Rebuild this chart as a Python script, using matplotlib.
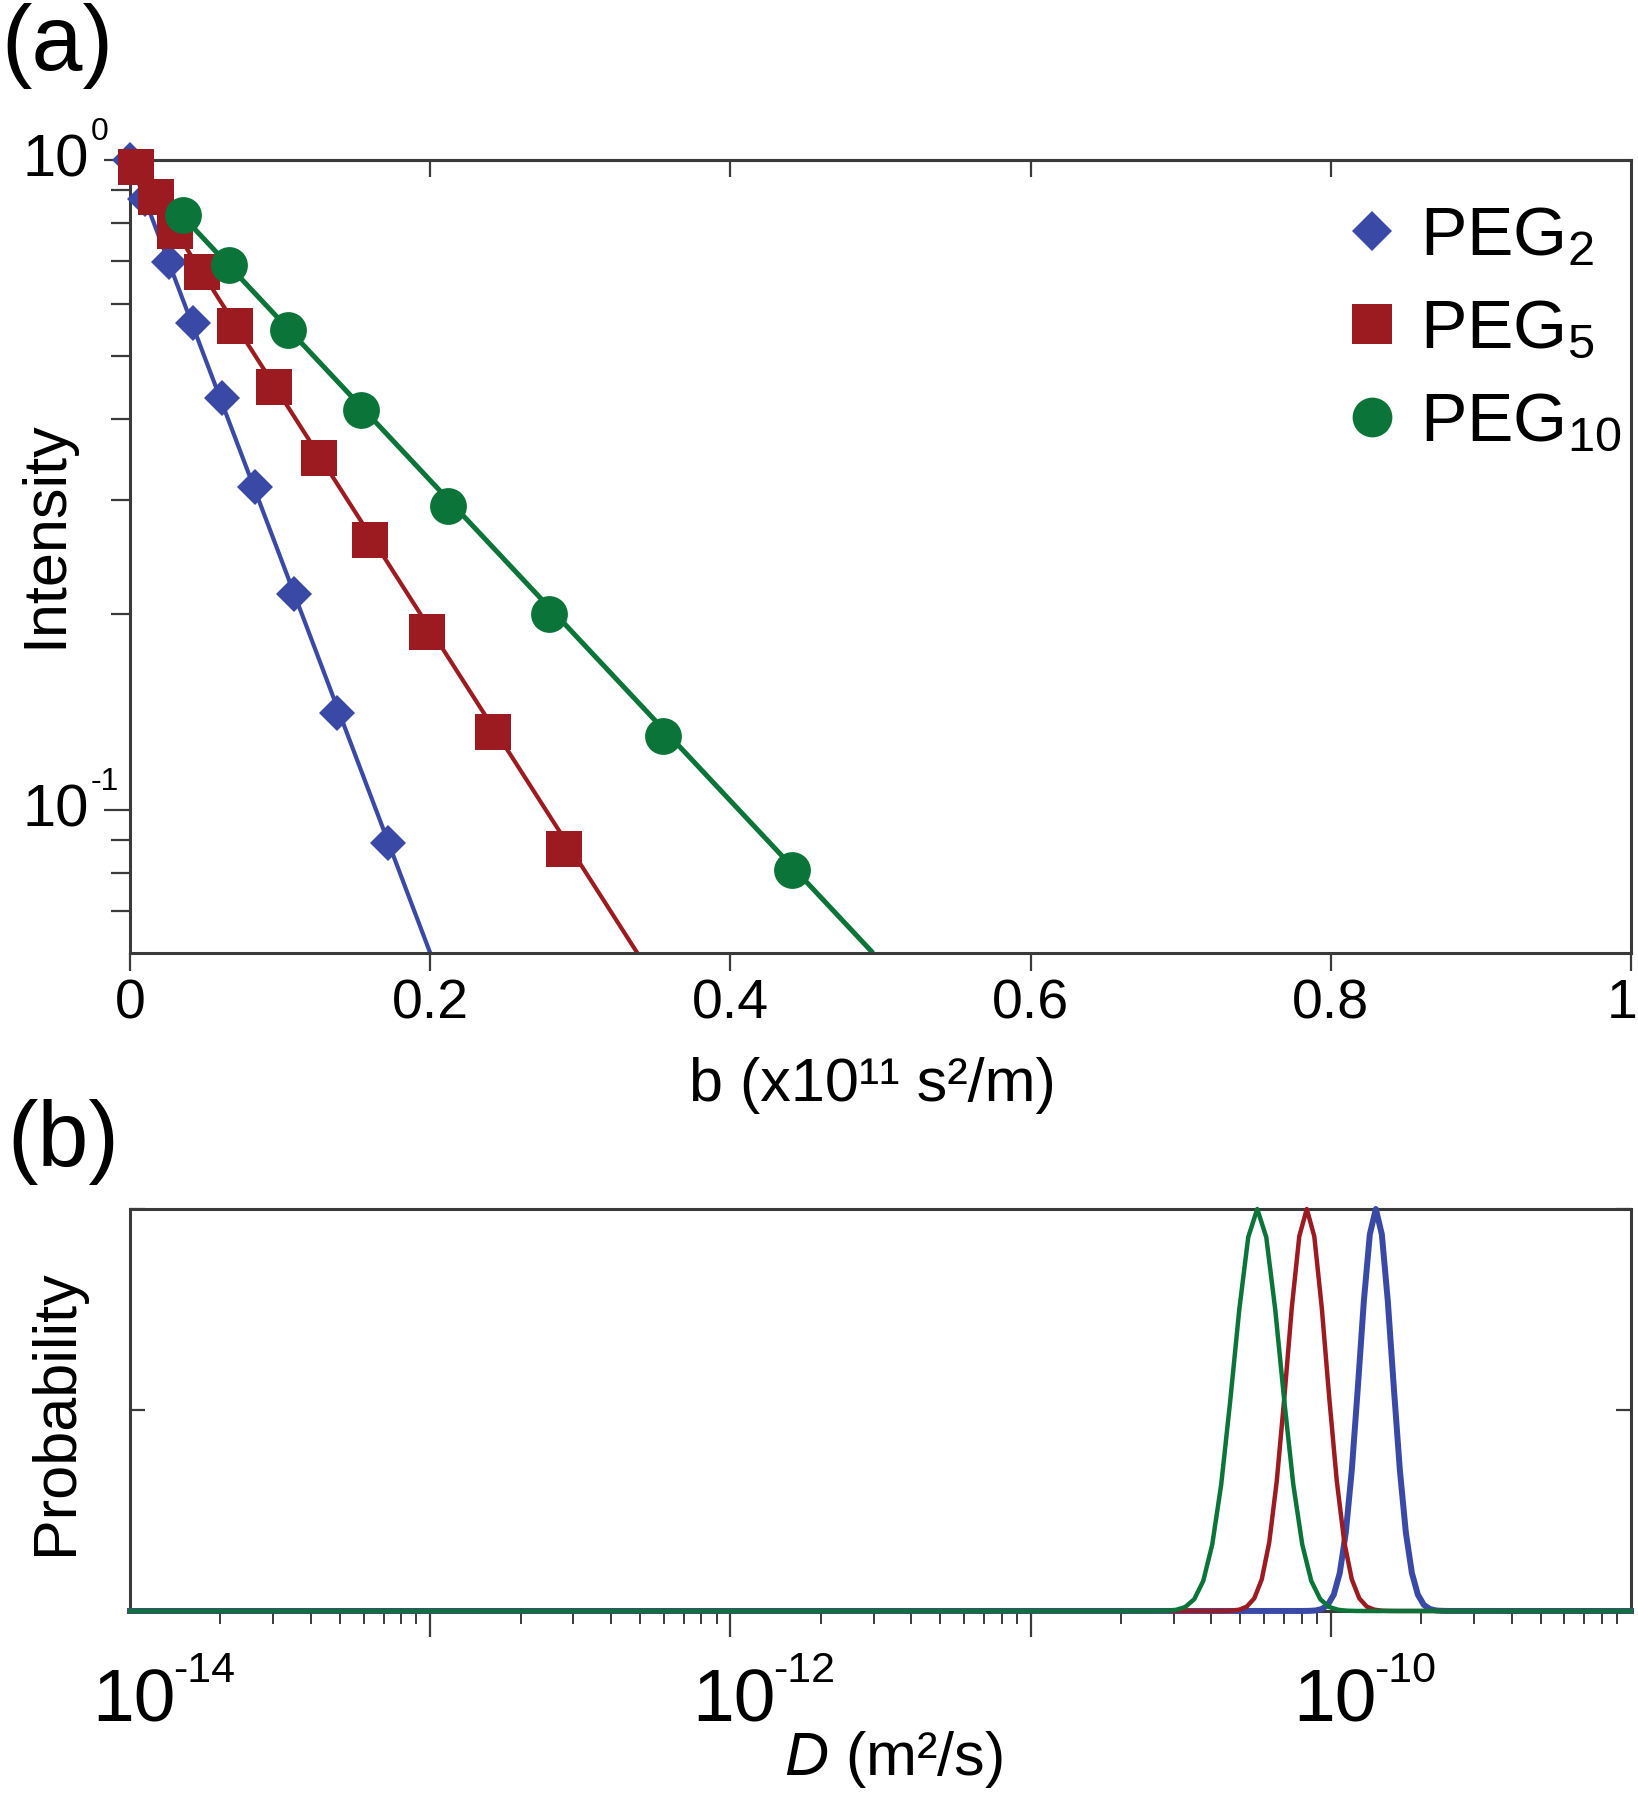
import numpy as np
import matplotlib
matplotlib.use('Agg')
import matplotlib.pyplot as plt
from matplotlib.ticker import LogLocator, NullFormatter, FixedLocator
from matplotlib.transforms import ScaledTranslation
from matplotlib.lines import Line2D

plt.rcParams['font.family'] = ['Liberation Sans', 'DejaVu Sans']
plt.rcParams['mathtext.fontset'] = 'custom'
plt.rcParams['mathtext.rm'] = 'Liberation Sans'
plt.rcParams['mathtext.it'] = 'Liberation Sans:italic'
plt.rcParams['mathtext.bf'] = 'Liberation Sans:bold'

# ---- panel (a): signal decay vs b ----
labels = ['PEG$_2$', 'PEG$_5$', 'PEG$_{10}$']
colors = ['#3a49a6', '#9c1b20', '#0b7439']

b_peg2 = [0.000, 0.010, 0.026, 0.042, 0.061, 0.083, 0.109, 0.138, 0.172]
i_peg2 = [1.000, 0.870, 0.697, 0.561, 0.431, 0.314, 0.215, 0.141, 0.089]
b_peg5 = [0.004, 0.017, 0.030, 0.048, 0.070, 0.096, 0.126, 0.160, 0.198, 0.242, 0.289]
i_peg5 = [0.975, 0.876, 0.778, 0.673, 0.556, 0.448, 0.348, 0.260, 0.188, 0.132, 0.087]
b_peg10 = [0.035, 0.066, 0.105, 0.154, 0.212, 0.279, 0.355, 0.441]
i_peg10 = [0.824, 0.689, 0.548, 0.413, 0.294, 0.200, 0.130, 0.081]

# fitted lines (straight on the semi-log axes)
fit_b_peg2 = [0.0, 0.200]
fit_i_peg2 = [1.0, 0.0603]
fit_b_peg5 = [0.0, 0.338]
fit_i_peg5 = [1.0, 0.0603]
fit_b_peg10 = [0.0, 0.495]
fit_i_peg10 = [1.0, 0.0603]

xticks_a = [0, 0.2, 0.4, 0.6, 0.8, 1.0]
xticklabels_a = ['0', '0.2', '0.4', '0.6', '0.8', '1']
yticks_a = [0.1, 1.0]
yexp_a = ['-1', '0']

# ---- panel (b): distribution of D (log10 D, probability) ----
logd_peg2 = [-14.0, -10.09, -10.07, -10.05, -10.03, -10.01, -9.99, -9.97, -9.95, -9.93,
             -9.91, -9.89, -9.87, -9.85, -9.83, -9.81, -9.79, -9.77, -9.75, -9.73,
             -9.71, -9.69, -9.67, -9.65, -9.63, -9.61, -9.0]
prob_peg2 = [0.0, 0.0001, 0.0004, 0.0014, 0.0050, 0.0152, 0.0406, 0.095, 0.195, 0.351,
             0.555, 0.770, 0.937, 1.000, 0.937, 0.770, 0.555, 0.351, 0.195, 0.095,
             0.0406, 0.0152, 0.0050, 0.0014, 0.0004, 0.0001, 0.0]
logd_peg5 = [-14.0, -10.380, -10.355, -10.330, -10.305, -10.280, -10.255, -10.230, -10.205,
             -10.180, -10.155, -10.130, -10.105, -10.080, -10.055, -10.030, -10.005,
             -9.980, -9.955, -9.930, -9.905, -9.880, -9.855, -9.830, -9.805, -9.780, -9.0]
prob_peg5 = [0.0, 0.00004, 0.0002, 0.00085, 0.0033, 0.0108, 0.0313, 0.0786, 0.171,
             0.323, 0.529, 0.754, 0.932, 1.000, 0.932, 0.754, 0.529,
             0.323, 0.171, 0.0786, 0.0313, 0.0108, 0.0033, 0.00085, 0.0002, 0.00004, 0.0]
logd_peg10 = [-14.0, -10.605, -10.575, -10.545, -10.515, -10.485, -10.455, -10.425, -10.395,
              -10.365, -10.335, -10.305, -10.275, -10.245, -10.215, -10.185, -10.155,
              -10.125, -10.095, -10.065, -10.035, -10.005, -9.975, -9.945, -9.915, -9.885, -9.0]
prob_peg10 = [0.0, 0.00003, 0.00016, 0.00074, 0.0029, 0.0099, 0.0292, 0.0746, 0.165,
              0.315, 0.523, 0.749, 0.930, 1.000, 0.930, 0.749, 0.523,
              0.315, 0.165, 0.0746, 0.0292, 0.0099, 0.0029, 0.00074, 0.00016, 0.00003, 0.0]

xticks_b = [1e-14, 1e-13, 1e-12, 1e-11, 1e-10, 1e-9]
xlabel_exps_b = [-14, -12, -10]

spine_c = '#3a3a3a'
fig = plt.figure(figsize=(16.38, 18), dpi=100)
W, H = 1638, 1800
px = lambda dx, dy: ScaledTranslation(dx / 100, dy / 100, fig.dpi_scale_trans)
ax1 = fig.add_axes([130 / W, 1 - 953 / H, 1501 / W, 793 / H])
ax2 = fig.add_axes([130 / W, 1 - 1611 / H, 1501 / W, 402 / H])

# panel (a)
series = [(b_peg2, i_peg2, fit_b_peg2, fit_i_peg2, 'D', 18.5, 3.0),
          (b_peg5, i_peg5, fit_b_peg5, fit_i_peg5, 's', 26.5, 3.0),
          (b_peg10, i_peg10, fit_b_peg10, fit_i_peg10, 'o', 26.5, 3.6)]
handles = []
for (bx, iy, fb, fi, mk, ms, lw), c, lab in zip(series, colors, labels):
    ax1.plot(fb, fi, color=c, lw=lw, solid_capstyle='butt')
    ax1.plot(bx, iy, ls='none', marker=mk, ms=ms, mew=0, color=c, clip_on=False, zorder=3)
    handles.append(Line2D([], [], ls='none', marker=mk, ms=ms * 1.08, mew=0, color=c))

ax1.set_yscale('log')
ax1.set_xlim(0, 1)
ax1.set_ylim(0.0603, 1)
ax1.set_xticks(xticks_a)
ax1.set_xticklabels(xticklabels_a)
ax1.yaxis.set_major_locator(FixedLocator(yticks_a))
ax1.yaxis.set_major_formatter(NullFormatter())
ax1.yaxis.set_minor_locator(LogLocator(base=10, subs=np.arange(2, 10), numticks=20))
ax1.yaxis.set_minor_formatter(NullFormatter())
ax1.tick_params(axis='x', which='major', direction='out', length=13, width=1.6,
                colors=spine_c, labelcolor='black', labelsize=40, pad=5, top=False)
ax1.tick_params(axis='y', which='major', direction='out', length=19, width=1.6,
                colors=spine_c, right=False)
ax1.tick_params(axis='y', which='minor', direction='out', length=14, width=1.6,
                colors=spine_c, right=False)
ax1.tick_params(axis='x', which='minor', bottom=False, top=False)
top = ax1.secondary_xaxis('top')
top.set_xticks(xticks_a[1:-1])
top.tick_params(direction='in', length=12, width=1.6, colors=spine_c, labeltop=False)
for s in list(top.spines.values()) + list(ax1.spines.values()):
    s.set_linewidth(2.2)
    s.set_color(spine_c)
last = ax1.xaxis.get_major_ticks()[-1].label1
last.set_transform(last.get_transform() + px(-9, 0))

# y tick labels drawn as 10 + raised exponent
ytr = ax1.get_yaxis_transform()
for v, e in zip(yticks_a, yexp_a):
    ax1.text(0, v, '10', transform=ytr + px(-41, -16), ha='right', va='baseline',
             fontsize=43, clip_on=False)
    ax1.text(0, v, e, transform=ytr + px(-39, 20), ha='left', va='baseline',
             fontsize=23, clip_on=False)

ax1.legend(handles, labels, loc='upper left', bbox_to_anchor=(0.804, 0.943),
           frameon=False, fontsize=50, handlelength=1.0, handletextpad=0.2,
           labelspacing=0.42, borderpad=0, borderaxespad=0, numpoints=1)

# panel (b)
for lx, py, c, lw in zip([logd_peg2, logd_peg5, logd_peg10],
                         [prob_peg2, prob_peg5, prob_peg10], colors, [4.3, 3.2, 3.2]):
    ax2.plot(10 ** np.array(lx), py, color=c, lw=lw, clip_on=False, zorder=3)

ax2.set_xscale('log')
ax2.set_xlim(1e-14, 1e-9)
ax2.set_ylim(0, 1)
ax2.set_xticks(xticks_b)
ax2.set_xticklabels([''] * len(xticks_b))
ax2.xaxis.set_minor_locator(LogLocator(base=10, subs=np.arange(2, 10), numticks=30))
ax2.xaxis.set_minor_formatter(NullFormatter())
ax2.tick_params(axis='x', which='major', direction='out', length=19, width=1.6,
                colors=spine_c)
ax2.tick_params(axis='x', which='minor', direction='out', length=9, width=1.4,
                colors=spine_c)
ax2.set_yticks([0, 0.5, 1.0])
ax2.set_yticklabels([])
ax2.tick_params(axis='y', which='major', direction='in', length=11, width=1.6,
                colors=spine_c, left=True, right=True)
for s in ax2.spines.values():
    s.set_linewidth(2.2)
    s.set_color(spine_c)
xt = ax2.xaxis.get_major_ticks()
xt[0].tick1line.set_visible(False)
xt[-1].tick1line.set_visible(False)

xtr = ax2.get_xaxis_transform()
for e in xlabel_exps_b:
    ax2.text(10.0 ** e, 0, '10', transform=xtr + px(4, -111), ha='center', va='baseline',
             fontsize=54, clip_on=False)
    ax2.text(10.0 ** e, 0, '-%d' % abs(e), transform=xtr + px(43, -71), ha='left',
             va='baseline', fontsize=31, clip_on=False)

# labels
fig.text(872 / W, 1 - 1085 / H, 'b (x10¹¹ s²/m)', fontsize=44, ha='center', va='center')
fig.text(46 / W, 1 - 534 / H, 'Intensity', fontsize=44, rotation=90, ha='center', va='center')
fig.text(57 / W, 1 - 1412 / H, 'Probability', fontsize=44, rotation=90, ha='center', va='center')
fig.text(893 / W, 1 - 1760 / H, '$D$ (m²/s)', fontsize=44, ha='center', va='center')
fig.text(57 / W, 1 - 46 / H, '(a)', fontsize=66, ha='center', va='center')
fig.text(63 / W, 1 - 1142 / H, '(b)', fontsize=66, ha='center', va='center')

fig.savefig('out.png', dpi=100)
